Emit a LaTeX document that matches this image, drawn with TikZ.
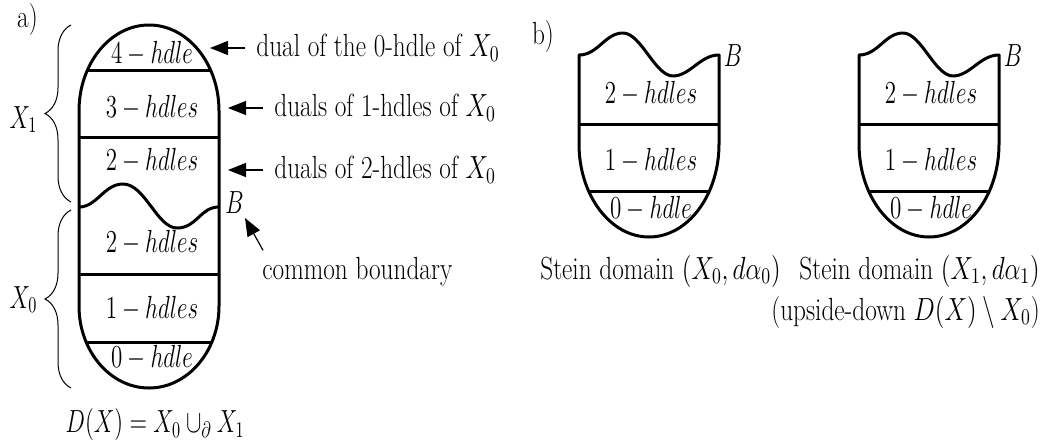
\RequirePackage{fix-cm}
\documentclass[tikz,border=0pt]{standalone}
\usetikzlibrary{arrows.meta,decorations.pathreplacing}

\begin{document}
\begin{tikzpicture}[x=0.5pt, y=0.5pt,
    font=\fontsize{16}{20.5}\selectfont,
    every node/.style={xscale=0.79},
    mth/.style={xscale=0.72/0.79},
    bd/.style={line width=1.5pt, line join=round},
    brc/.style={line width=0.5pt, decorate, decoration={brace, amplitude=13pt}},
    arr/.style={line width=0.6pt, -{Triangle[length=9pt, width=7pt]}},
    note/.style={anchor=west, inner xsep=7pt}]
    \useasboundingbox (0,0) rectangle (1042,446);
    % a) the double D(X)
    \draw[bd] (79,140) -- (79,335) arc[start angle=180, end angle=0, x radius=35pt, y radius=43pt]
        -- (219,140) arc[start angle=0, end angle=-180, x radius=35pt, y radius=41pt] -- cycle;
    \draw[bd] (87.5,376) -- (210.5,376);
    \draw[bd] (79,309) -- (219,309);
    \draw[bd] (79,239) .. controls (97,239) and (104,262) .. (123,262)
        .. controls (145,262) and (157,218) .. (177,218)
        .. controls (197,218) and (200,239) .. (219,239);
    \draw[bd] (79,172) -- (219,172);
    \draw[bd] (86.1,104) -- (211.9,104);
    \node[mth] (four)  at (152,392) {$4-hdle$};
    \node[mth] (three) at (152,338) {$3-hdles$};
    \node[mth] (twoup) at (152,285) {$2-hdles$};
    \node[mth] (twolo) at (152,203) {$2-hdles$};
    \node[mth] (one)   at (152,137) {$1-hdles$};
    \node[mth] (zero)  at (152,88)  {$0-hdle$};
    \node (a) at (27.5,426.5) {a)};
    % braces
    \draw[brc] (71,244) -- (71,421);
    \draw[brc] (71,58) -- (71,236);
    \node[mth] (xone)  at (23.5,326.5) {$X_1$};
    \node[mth] (xzero) at (23.5,146.5) {$X_0$};
    % notes on the right
    \node[note] (dual0) at (245,398) {dual of the 0-hdle of $X_0$};
    \node[note] (dual1) at (263,338) {duals of 1-hdles of $X_0$};
    \node[note] (dual2) at (263,276) {duals of 2-hdles of $X_0$};
    \coordinate (tip0) at (210,398);
    \coordinate (tip1) at (228,338);
    \coordinate (tip2) at (228,276);
    \draw[arr] (dual0.west) -- (tip0);
    \draw[arr] (dual1.west) -- (tip1);
    \draw[arr] (dual2.west) -- (tip2);
    \node[mth] (bleft) at (234.5,243) {$B$};
    \node[anchor=west, inner sep=2pt] (cb) at (259,174) {common boundary};
    \coordinate (btip) at (245,228);
    \draw[arr] ([shift={(4,3)}]cb.north west) -- (btip);
    \node[mth] (dx) at (155,21.5) {$D(X)=X_0\cup_\partial X_1$};
    % b) the two Stein domains
    \node (b) at (543,409) {b)};
    \foreach \dx/\nm in {0/s,280/t} {
      \begin{scope}[shift={(\dx,0)}]
        \draw[bd] (719,391) -- (719,302) arc[start angle=0, end angle=-180, x radius=35pt, y radius=46.5pt]
            -- (579,391) .. controls (598,391) and (605,413) .. (623,413)
            .. controls (641,413) and (655,370) .. (673,370)
            .. controls (690,370) and (700,391) .. cycle;
        \draw[bd] (579,322) -- (719,322);
        \draw[bd] (588.9,255) -- (709.7,255);
        \node[mth] (\nm two)  at (651,352.5) {$2-hdles$};
        \node[mth] (\nm one)  at (651,285)   {$1-hdles$};
        \node[mth] (\nm zero) at (651,237)   {$0-hdle$};
        \node[mth] (\nm B)    at (733,390)   {$B$};
      \end{scope}
    }
    \node[inner sep=0pt] (cap0) at (660.5,175) {Stein domain $(X_0,d\alpha_0)$};
    \node[inner sep=0pt, anchor=east, align=right] (cap1) at (1040,154.5)
        {Stein domain $(X_1,d\alpha_1)$\\(upside-down $D(X)\setminus X_0$)};
\end{tikzpicture}
\end{document}
